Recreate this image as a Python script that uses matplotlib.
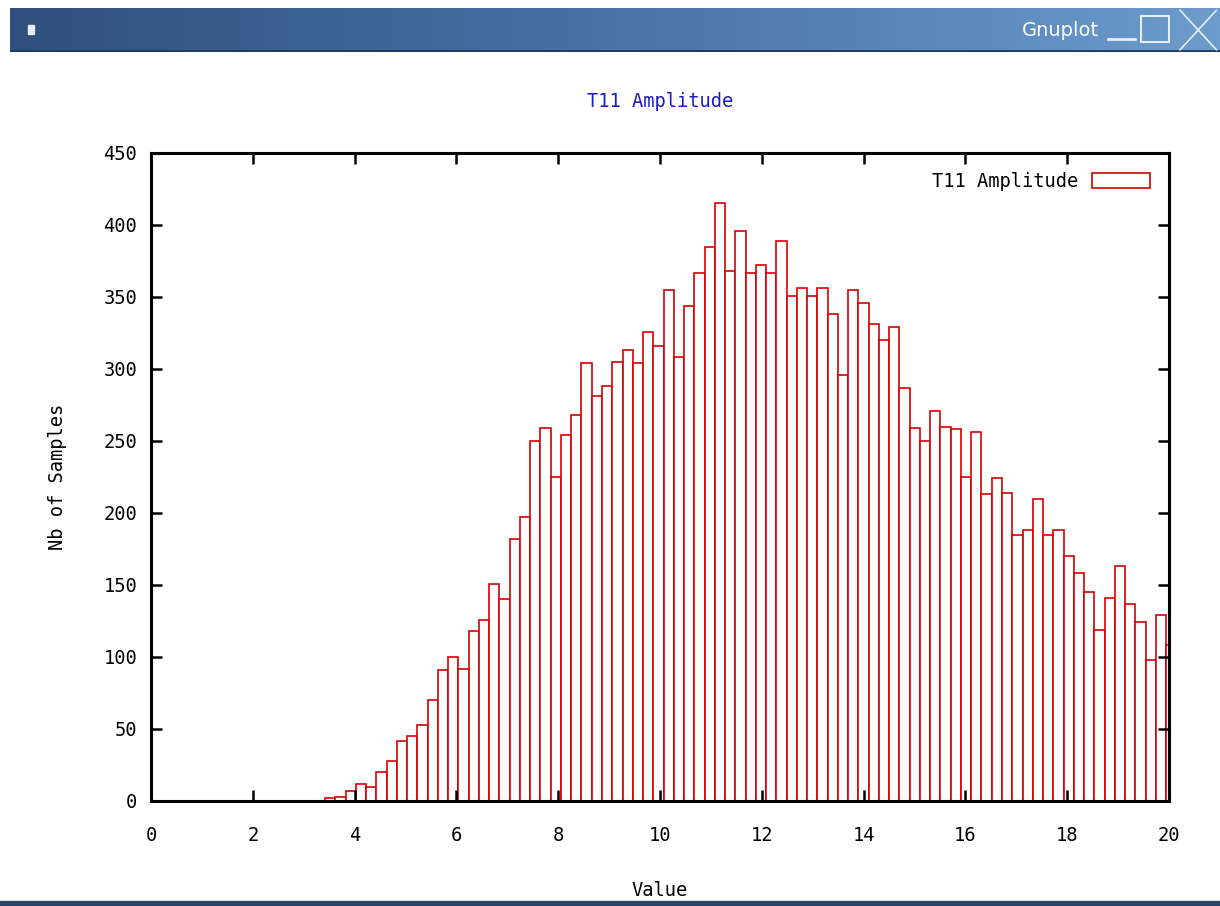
import numpy as np
import matplotlib
matplotlib.use("Agg")
import matplotlib.pyplot as plt
from matplotlib.patches import Rectangle

# histogram counts, one per bin
counts = [2, 3, 7, 12, 10, 20, 28, 42, 45, 53, 70, 91, 100, 92, 118, 126, 151, 140,
          182, 197, 250, 259, 225, 254, 268, 304, 281, 288, 305, 313, 304, 326, 316,
          355, 308, 344, 367, 385, 415,
          368, 396, 367, 372, 367, 389, 351, 356, 351, 356, 338, 296, 355, 346, 331,
          320, 329, 287,
          259, 250, 271, 260, 258, 225, 256, 213, 224, 214, 185, 188, 210, 185, 188,
          170, 158, 145, 119, 141, 163, 137, 124, 98, 129,
          108]
bin_start = 3.42
bin_width = 0.2015
x_ticks = list(range(0, 21, 2))
y_ticks = list(range(0, 451, 50))

mono = "DejaVu Sans Mono"
red = "#d80000"
fs = 13.5

fig = plt.figure(figsize=(12.2, 9.06), dpi=100)
fig.patch.set_facecolor("white")

# window title bar
bar_ax = fig.add_axes([10 / 1220, 1 - 52 / 906, 1210 / 1220, 44 / 906])
grad = np.linspace(0, 1, 256).reshape(1, -1)
cmap = matplotlib.colors.LinearSegmentedColormap.from_list("wm", ["#2f4f7e", "#4a72a6", "#6c9bcc"])
bar_ax.imshow(grad, aspect="auto", cmap=cmap, extent=[0, 1, 0, 1])
bar_ax.axhline(0.02, color="#203a60", lw=2)
bar_ax.set_xlim(0, 1)
bar_ax.set_ylim(0, 1)
bar_ax.axis("off")
bar_ax.add_patch(Rectangle((0.015, 0.42), 0.005, 0.2, color="#e8eef6"))
bar_ax.text(0.9, 0.5, "Gnuplot", color="white", fontsize=14, ha="right", va="center",
            family="DejaVu Sans")
bar_ax.plot([0.9075, 0.93], [0.3, 0.3], color="#e8eef6", lw=2)
bar_ax.add_patch(Rectangle((0.935, 0.22), 0.023, 0.6, fill=False, ec="#e8eef6", lw=1.5))
bar_ax.plot([0.967, 0.997], [0.05, 0.95], color="#e8eef6", lw=1.2)
bar_ax.plot([0.967, 0.997], [0.95, 0.05], color="#e8eef6", lw=1.2)

# bottom window border
fig.patches.append(Rectangle((0, 0), 1, 5 / 906, transform=fig.transFigure,
                             color="#2a4468", zorder=0))

ax = fig.add_axes([151 / 1220, 1 - 801 / 906, 1018 / 1220, 648 / 906])
lefts = bin_start + bin_width * np.arange(len(counts))
ax.bar(lefts, counts, width=bin_width, align="edge", facecolor="white",
       edgecolor=red, linewidth=1.2, label="T11 Amplitude", clip_on=True)

ax.set_xlim(0, 20)
ax.set_ylim(0, 450)
ax.set_xticks(x_ticks)
ax.set_yticks(y_ticks)
ax.tick_params(direction="in", length=8, width=1.8, top=True, right=True,
               labelsize=fs)
ax.tick_params(axis="x", pad=18)
ax.tick_params(axis="y", pad=10)
for lab in ax.get_xticklabels() + ax.get_yticklabels():
    lab.set_family(mono)
for s in ax.spines.values():
    s.set_linewidth(2.2)

ax.set_title("T11 Amplitude", color="#1a1acc", family=mono, fontsize=fs, pad=33)
ax.set_xlabel("Value", family=mono, fontsize=fs, labelpad=26)
ax.set_ylabel("Nb of Samples", family=mono, fontsize=fs, labelpad=26)

leg = ax.legend(loc="upper right", frameon=False, markerfirst=False,
                prop={"family": mono, "size": fs}, handlelength=3.1,
                handleheight=0.9, borderaxespad=0.6, handletextpad=0.75)

plt.savefig("out.png", dpi=100)
